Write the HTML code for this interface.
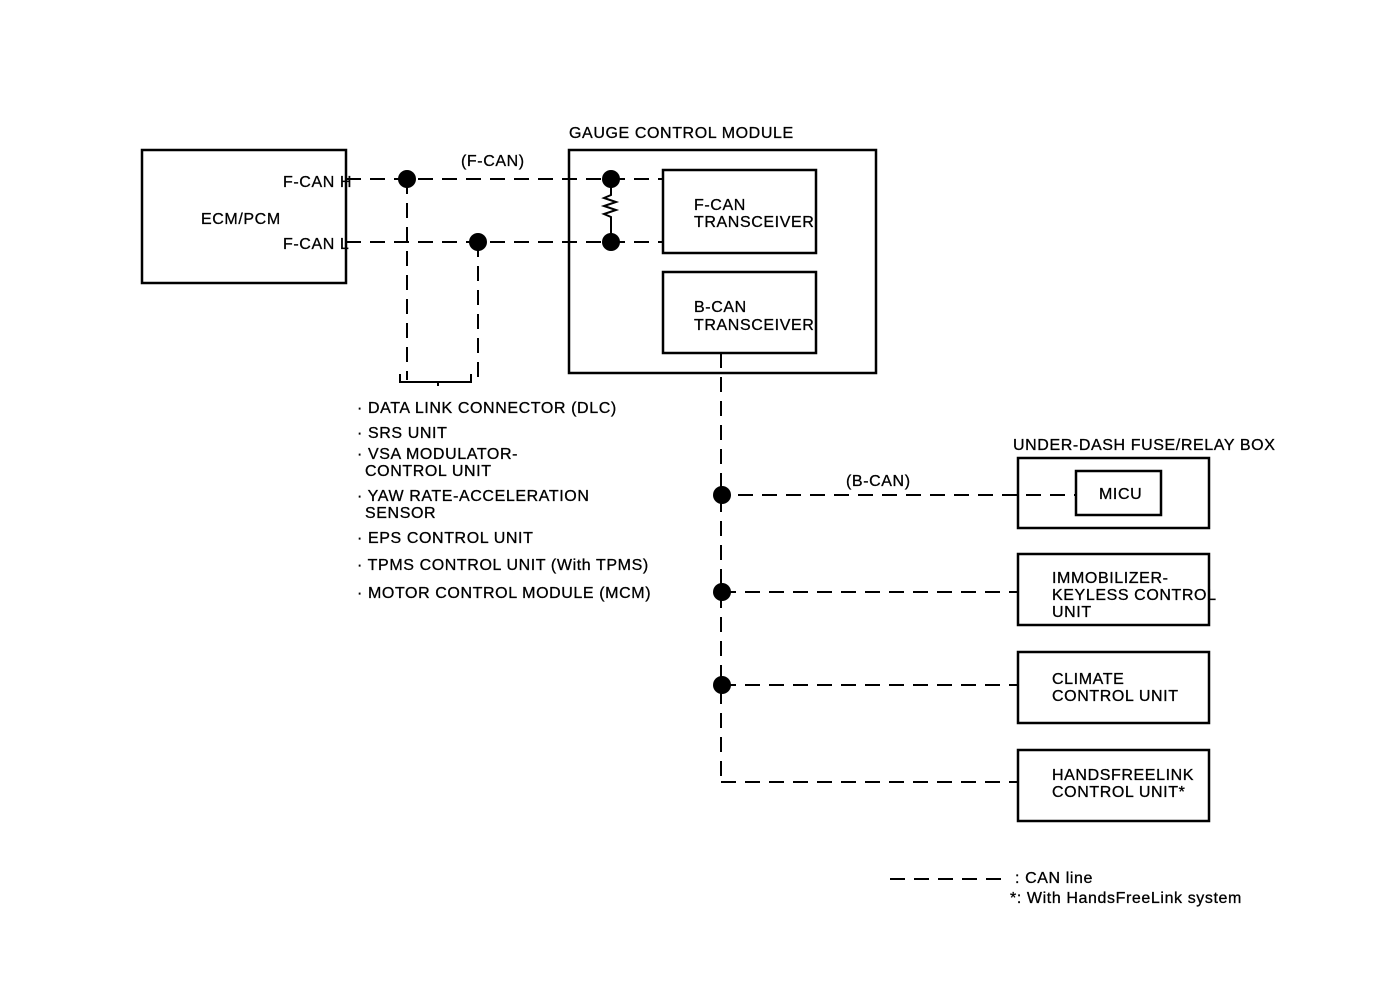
<!DOCTYPE html>
<html><head><meta charset="utf-8"><style>
html,body{margin:0;padding:0;background:#fff;}
svg{display:block;}
text{font-family:"Liberation Sans",sans-serif;font-size:16px;fill:#000;letter-spacing:0.6px;stroke:#000;stroke-width:0.3px;}
</style></head><body>
<svg width="1392" height="986" viewBox="0 0 1392 986" xmlns="http://www.w3.org/2000/svg">
<g fill="none" stroke="#000" stroke-width="2.5">
<rect x="142" y="150" width="204" height="133"/>
<rect x="569" y="150" width="307" height="223"/>
<rect x="663" y="170" width="153" height="83"/>
<rect x="663" y="272" width="153" height="81"/>
<rect x="1018" y="458" width="191" height="70"/>
<rect x="1076" y="471" width="85" height="44"/>
<rect x="1018" y="554" width="191" height="71"/>
<rect x="1018" y="652" width="191" height="71"/>
<rect x="1018" y="750" width="191" height="71"/>
</g>
<g fill="none" stroke="#000" stroke-width="2" stroke-dasharray="15,9">
<line x1="346" y1="179" x2="663" y2="179"/>
<line x1="346" y1="242" x2="663" y2="242"/>
<line x1="407" y1="179" x2="407" y2="380"/>
<line x1="478" y1="242" x2="478" y2="380"/>
<line x1="721" y1="353" x2="721" y2="782"/>
<line x1="738" y1="495" x2="1076" y2="495"/>
<line x1="721" y1="592" x2="1018" y2="592"/>
<line x1="721" y1="685" x2="1018" y2="685"/>
<line x1="721" y1="782" x2="1018" y2="782"/>
<line x1="890" y1="879" x2="1005" y2="879"/>
</g>
<path d="M400 374 v8 h71 v-8 M438 382 v4" fill="none" stroke="#000" stroke-width="2"/>
<path d="M611 179 v16 l-7 3 l12 4 l-12 4 l12 4 l-12 4 l7 3 v25" fill="none" stroke="#000" stroke-width="2"/>
<g fill="#000">
<circle cx="407" cy="179" r="9"/>
<circle cx="478" cy="242" r="9"/>
<circle cx="611" cy="179" r="9"/>
<circle cx="611" cy="242" r="9"/>
<circle cx="722" cy="495" r="9"/>
<circle cx="722" cy="592" r="9"/>
<circle cx="722" cy="685" r="9"/>
</g>
<text x="569" y="138">GAUGE CONTROL MODULE</text>
<text x="461" y="166">(F-CAN)</text>
<text x="283" y="187">F-CAN H</text>
<text x="283" y="249">F-CAN L</text>
<text x="201" y="224">ECM/PCM</text>
<text x="694" y="210">F-CAN</text>
<text x="694" y="227">TRANSCEIVER</text>
<text x="694" y="312">B-CAN</text>
<text x="694" y="330">TRANSCEIVER</text>
<text x="1013" y="450">UNDER-DASH FUSE/RELAY BOX</text>
<text x="846" y="486">(B-CAN)</text>
<text x="1099" y="499">MICU</text>
<text x="1052" y="583">IMMOBILIZER-</text>
<text x="1052" y="600">KEYLESS CONTROL</text>
<text x="1052" y="617">UNIT</text>
<text x="1052" y="684">CLIMATE</text>
<text x="1052" y="701">CONTROL UNIT</text>
<text x="1052" y="780">HANDSFREELINK</text>
<text x="1052" y="797">CONTROL UNIT*</text>
<text x="1015" y="883">: CAN line</text>
<text x="1010" y="903">*: With HandsFreeLink system</text>
<g>
<text x="357" y="413">· DATA LINK CONNECTOR (DLC)</text>
<text x="357" y="438">· SRS UNIT</text>
<text x="357" y="459">· VSA MODULATOR-</text>
<text x="365" y="476">CONTROL UNIT</text>
<text x="357" y="501">· YAW RATE-ACCELERATION</text>
<text x="365" y="518">SENSOR</text>
<text x="357" y="543">· EPS CONTROL UNIT</text>
<text x="357" y="570">· TPMS CONTROL UNIT (With TPMS)</text>
<text x="357" y="598">· MOTOR CONTROL MODULE (MCM)</text>
</g>
</svg>
</body></html>
